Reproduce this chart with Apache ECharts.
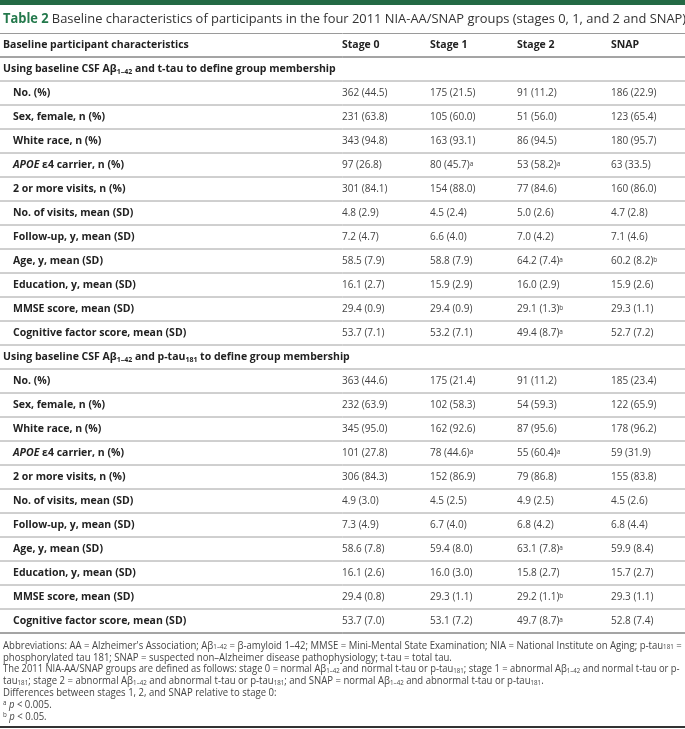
<!DOCTYPE html>
<html><head><meta charset="utf-8">
<script src="https://cdn.jsdelivr.net/npm/echarts@6/dist/echarts.min.js"></script>
<style>html,body{margin:0;padding:0;background:#fff}#c{width:685px;height:729px}</style>
</head><body><div id="c"></div>
<script>
// ---------- data ----------
const headerCols = ['Baseline participant characteristics', 'Stage 0', 'Stage 1', 'Stage 2', 'SNAP'];
const sectionTitles = [
  'Using baseline CSF Aβ{subB|1–42} and t-tau to define group membership',
  'Using baseline CSF Aβ{subB|1–42} and p-tau{subB|181} to define group membership'
];
const rowLabels = ['No. (%)', 'Sex, female, n (%)', 'White race, n (%)', '{it|APOE} ε4 carrier, n (%)',
  '2 or more visits, n (%)', 'No. of visits, mean (SD)', 'Follow-up, y, mean (SD)', 'Age, y, mean (SD)',
  'Education, y, mean (SD)', 'MMSE score, mean (SD)', 'Cognitive factor score, mean (SD)'];

const stage0_ttau = ['362 (44.5)','231 (63.8)','343 (94.8)','97 (26.8)','301 (84.1)','4.8 (2.9)','7.2 (4.7)','58.5 (7.9)','16.1 (2.7)','29.4 (0.9)','53.7 (7.1)'];
const stage1_ttau = ['175 (21.5)','105 (60.0)','163 (93.1)','80 (45.7){sup|a}','154 (88.0)','4.5 (2.4)','6.6 (4.0)','58.8 (7.9)','15.9 (2.9)','29.4 (0.9)','53.2 (7.1)'];
const stage2_ttau = ['91 (11.2)','51 (56.0)','86 (94.5)','53 (58.2){sup|a}','77 (84.6)','5.0 (2.6)','7.0 (4.2)','64.2 (7.4){sup|a}','16.0 (2.9)','29.1 (1.3){sup|b}','49.4 (8.7){sup|a}'];
const snap_ttau   = ['186 (22.9)','123 (65.4)','180 (95.7)','63 (33.5)','160 (86.0)','4.7 (2.8)','7.1 (4.6)','60.2 (8.2){sup|b}','15.9 (2.6)','29.3 (1.1)','52.7 (7.2)'];

const stage0_ptau = ['363 (44.6)','232 (63.9)','345 (95.0)','101 (27.8)','306 (84.3)','4.9 (3.0)','7.3 (4.9)','58.6 (7.8)','16.1 (2.6)','29.4 (0.8)','53.7 (7.0)'];
const stage1_ptau = ['175 (21.4)','102 (58.3)','162 (92.6)','78 (44.6){sup|a}','152 (86.9)','4.5 (2.5)','6.7 (4.0)','59.4 (8.0)','16.0 (3.0)','29.3 (1.1)','53.1 (7.2)'];
const stage2_ptau = ['91 (11.2)','54 (59.3)','87 (95.6)','55 (60.4){sup|a}','79 (86.8)','4.9 (2.5)','6.8 (4.2)','63.1 (7.8){sup|a}','15.8 (2.7)','29.2 (1.1){sup|b}','49.7 (8.7){sup|a}'];
const snap_ptau   = ['185 (23.4)','122 (65.9)','178 (96.2)','59 (31.9)','155 (83.8)','4.5 (2.6)','6.8 (4.4)','59.9 (8.4)','15.7 (2.7)','29.3 (1.1)','52.8 (7.4)'];

const titleText = '{tb|Table 2} {t|Baseline characteristics of participants in the four 2011 NIA-AA/SNAP groups (stages 0, 1, and 2 and SNAP)}';
const footLines = [
  'Abbreviations: AA = Alzheimer\'s Association; Aβ{fs|1–42} = β-amyloid 1–42; MMSE = Mini-Mental State Examination; NIA = National Institute on Aging; p-tau{fs|181} =',
  'phosphorylated tau 181; SNAP = suspected non–Alzheimer disease pathophysiology; t-tau = total tau.',
  'The 2011 NIA-AA/SNAP groups are defined as follows: stage 0 = normal Aβ{fs|1–42} and normal t-tau or p-tau{fs|181}; stage 1 = abnormal Aβ{fs|1–42} and normal t-tau or p-',
  'tau{fs|181}; stage 2 = abnormal Aβ{fs|1–42} and abnormal t-tau or p-tau{fs|181}; and SNAP = normal Aβ{fs|1–42} and abnormal t-tau or p-tau{fs|181}.',
  'Differences between stages 1, 2, and SNAP relative to stage 0:',
  '{fp|a} {fi|p} < 0.005.',
  '{fp|b} {fi|p} < 0.05.'
];

// ---------- layout / style ----------
const FONT = '"Open Sans", "DejaVu Sans", sans-serif';
const W = 685, ROW_H = 24, TABLE_TOP = 33, NROWS = 25;
const colX = [3, 342, 430, 517, 611];
const LABEL_INDENT = 10;
const footScale = [0.955, 0.955, 0.938, 0.955, 0.955, 0.955, 0.955];
const richTable = {
  sup: {fontSize: 6.5, fontFamily: FONT, fill: '#444', verticalAlign: 'top', lineHeight: 10},
  subB: {fontSize: 7, fontFamily: FONT, fontWeight: 'bold', fill: '#222', verticalAlign: 'bottom', lineHeight: 8},
  it: {fontSize: 10.5, fontFamily: FONT, fontWeight: 'bold', fontStyle: 'italic', fill: '#222'}
};

// build cells: [row, col, text, kind]
const cells = [];
headerCols.forEach((t, c) => cells.push([0, c, t, 'head']));
const sections = [
  [stage0_ttau, stage1_ttau, stage2_ttau, snap_ttau],
  [stage0_ptau, stage1_ptau, stage2_ptau, snap_ptau]
];
let r = 1;
sections.forEach((cols, s) => {
  cells.push([r, 0, sectionTitles[s], 'section']);
  r++;
  rowLabels.forEach((lab, i) => {
    cells.push([r, 0, lab, 'label']);
    cols.forEach((arr, c) => cells.push([r, c + 1, arr[i], 'value']));
    r++;
  });
});
// row boundary lines
const lines = [];
for (let b = 1; b <= NROWS; b++) lines.push([b, b === 1 || b === NROWS ? 'dark' : 'light']);

const chart = echarts.init(document.getElementById('c'), null, {renderer: 'canvas'});
chart.setOption({
  animation: false,
  grid: {left: 0, width: W, top: TABLE_TOP, height: ROW_H * NROWS},
  xAxis: {type: 'value', min: 0, max: W, show: false},
  yAxis: {type: 'value', min: 0, max: NROWS, inverse: true, show: false},
  graphic: {elements: [
    {type: 'rect', shape: {x: 0, y: 0, width: W, height: 5}, style: {fill: '#236a45'}},
    {type: 'line', shape: {x1: 0, y1: 33.5, x2: W, y2: 33.5}, style: {stroke: '#9a9a9a', lineWidth: 1}},
    {type: 'text', x: 3, y: 19, scaleX: 0.955, style: {text: titleText, verticalAlign: 'middle', rich: {
      tb: {fontSize: 13.5, fontFamily: FONT, fontWeight: 'bold', fill: '#24794c'},
      t: {fontSize: 13.5, fontFamily: FONT, fill: '#333'}
    }}},
    ...footLines.map((t, i) => ({type: 'text', x: 3, y: 646 + i * 11.8, scaleX: footScale[i], style: {
      text: t, verticalAlign: 'middle', fontSize: 10, fontFamily: FONT, fill: '#444', rich: {
        fs: {fontSize: 6.5, fontFamily: FONT, fill: '#444', verticalAlign: 'bottom', lineHeight: 8},
        fp: {fontSize: 6.5, fontFamily: FONT, fill: '#444', verticalAlign: 'top', lineHeight: 8},
        fi: {fontSize: 10, fontFamily: FONT, fontStyle: 'italic', fill: '#444'}
      }}})),
    {type: 'line', shape: {x1: 0, y1: 727, x2: W, y2: 727}, style: {stroke: '#333', lineWidth: 2}}
  ]},
  series: [
    {
      type: 'custom', coordinateSystem: 'cartesian2d', data: lines.map(l => [l[0]]),
      renderItem: (params, api) => {
        const b = api.value(0);
        const p0 = api.coord([0, b]), p1 = api.coord([W, b]);
        const dark = lines[params.dataIndex][1] === 'dark';
        return {type: 'line', shape: {x1: p0[0], y1: p0[1], x2: p1[0], y2: p1[1]},
          style: {stroke: dark ? '#4a4a4a' : '#a0a0a0', lineWidth: 1}};
      }
    },
    {
      type: 'custom', coordinateSystem: 'cartesian2d', data: cells.map(c => [c[0], c[1]]),
      renderItem: (params, api) => {
        const row = api.value(0), col = api.value(1);
        const cell = cells[params.dataIndex];
        const kind = cell[3];
        const x = colX[col] + (kind === 'label' ? LABEL_INDENT : 0);
        const p = api.coord([x, row + 0.5]);
        const bold = kind !== 'value';
        return {type: 'text', x: p[0], y: p[1] + 0.5, style: {
          text: cell[2], verticalAlign: 'middle', align: 'left',
          fontSize: kind === 'value' ? 10 : 10.5, fontFamily: FONT,
          fontWeight: bold ? 'bold' : 'normal', fill: bold ? '#222' : '#444',
          rich: richTable
        }};
      }
    }
  ]
});
</script></body></html>
